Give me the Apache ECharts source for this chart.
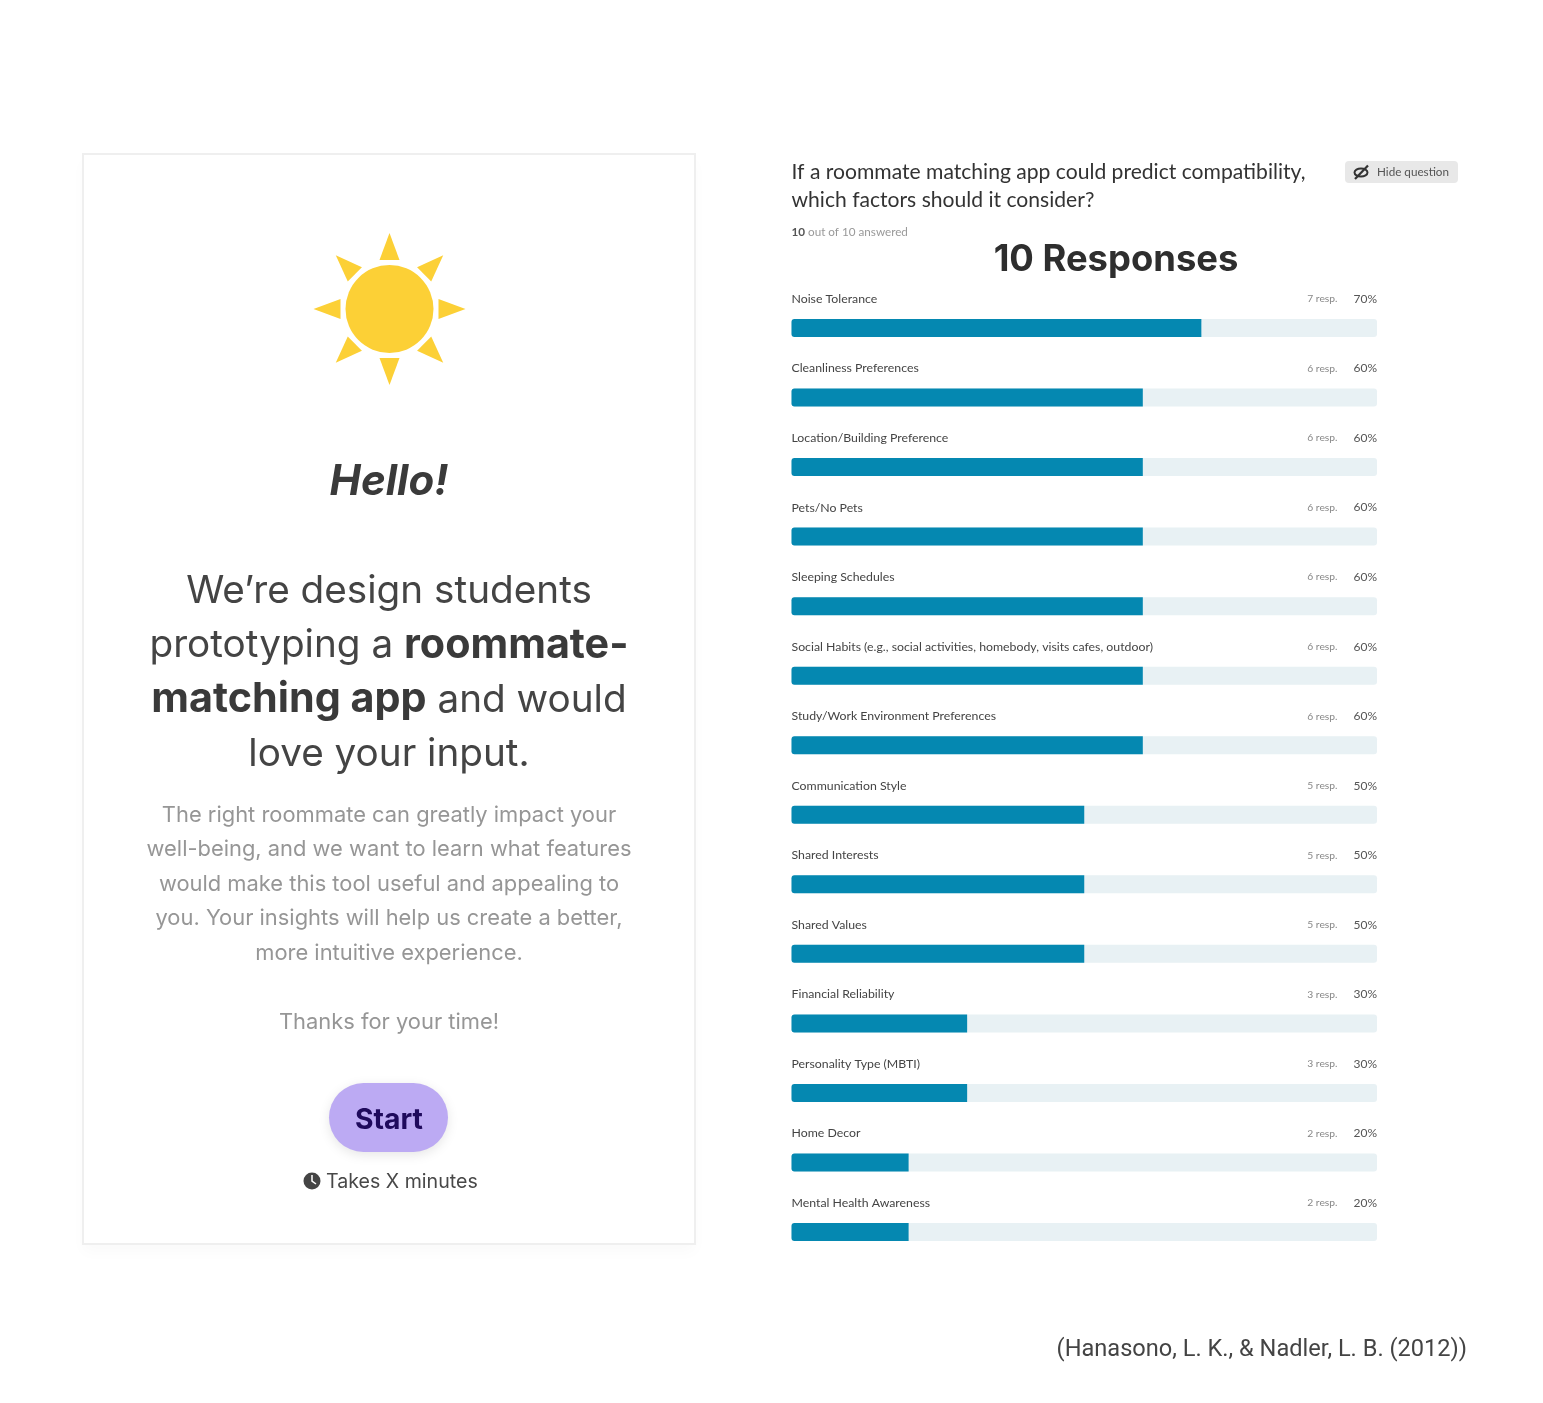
<!DOCTYPE html>
<html><head><meta charset="utf-8">
<style>html,body{margin:0;padding:0;background:#fff}#c{width:1543px;height:1403px}</style>
<script src="https://cdn.jsdelivr.net/npm/echarts@6/dist/echarts.min.js"></script>
</head><body><div id="c"></div>
<script>
const categories = ["Noise Tolerance","Cleanliness Preferences","Location/Building Preference","Pets/No Pets","Sleeping Schedules","Social Habits (e.g., social activities, homebody, visits cafes, outdoor)","Study/Work Environment Preferences","Communication Style","Shared Interests","Shared Values","Financial Reliability","Personality Type (MBTI)","Home Decor","Mental Health Awareness"];
const responses = [7,6,6,6,6,6,6,5,5,5,3,3,2,2];
const percents = [70,60,60,60,60,60,60,50,50,50,30,30,20,20];
const totalTrack = categories.map(() => 100);
const introLines = ["We’re design students","prototyping a {b|roommate-}","{b|matching app} and would","love your input."];
const bodyLines = ["The right roommate can greatly impact your","well-being, and we want to learn what features","would make this tool useful and appealing to","you. Your insights will help us create a better,","more intuitive experience."];

const INTER = 'Inter', SANS = 'Lato';
const chart = echarts.init(document.getElementById('c'), null, {width:1543, height:1403});
const g = [];
function text(x,y,t,size,color,o){ o=o||{};
  g.push({type:'text',x:x,y:y,z:10,style:{text:t,fontFamily:o.font||INTER,fontSize:size,fontWeight:o.weight||400,fontStyle:o.style||'normal',fill:color,align:o.align||'center',verticalAlign:'middle',rich:o.rich}});
}
g.push({type:'rect',shape:{x:83,y:154,width:612,height:1090},z:1,style:{fill:'#fff',stroke:'#efefef',lineWidth:2,shadowBlur:14,shadowColor:'rgba(0,0,0,0.025)',shadowOffsetY:8}});
const cx=389.5, cy=309, sunColor='#fcd036';
g.push({type:'circle',shape:{cx:cx,cy:cy,r:44},z:5,style:{fill:sunColor}});
for(let i=0;i<8;i++){ const a=i*Math.PI/4, ux=Math.cos(a), uy=Math.sin(a);
  g.push({type:'polygon',z:5,shape:{points:[[cx+76*ux,cy+76*uy],[cx+49*ux-10*uy,cy+49*uy+10*ux],[cx+49*ux+10*uy,cy+49*uy-10*ux]]},style:{fill:sunColor}});
}
text(389,482,'Hello!',42,'#3a3a3a',{weight:700,style:'italic'});
introLines.forEach((l,i)=>text(389,591+i*54.5,l,38.7,'#444',{rich:{b:{fontFamily:INTER,fontSize:41.3,fontWeight:700,fill:'#3a3a3a'}}}));
bodyLines.forEach((l,i)=>text(389,815+i*34.5,l,21.9,'#969696'));
text(389,1022,'Thanks for your time!',21.9,'#969696');
g.push({type:'rect',shape:{x:329,y:1083,width:119,height:69,r:34.5},z:5,style:{fill:'#bcaaf3',shadowBlur:12,shadowColor:'rgba(0,0,0,0.10)',shadowOffsetY:3}});
text(389,1120.5,'Start',28.3,'#1f0a5c',{weight:700});
g.push({type:'circle',shape:{cx:312,cy:1181,r:8.5},z:5,style:{fill:'#444'}});
g.push({type:'polyline',shape:{points:[[312,1175],[312,1181],[316,1184]]},z:6,style:{fill:'none',stroke:'#fff',lineWidth:1.5}});
text(326,1182,'Takes X minutes',19.6,'#484848',{align:'left'});
text(791.5,172,'If a roommate matching app could predict compatibility,',21.1,'#333',{font:SANS,align:'left'});
text(791.5,200,'which factors should it consider?',21.1,'#333',{font:SANS,align:'left'});
g.push({type:'rect',shape:{x:1345,y:161,width:113,height:22,r:4},z:5,style:{fill:'#e8e8e8'}});
g.push({type:'ellipse',shape:{cx:1361,cy:172.5,rx:6.5,ry:4},z:6,style:{fill:'none',stroke:'#333',lineWidth:2}});
g.push({type:'line',shape:{x1:1355,y1:179,x2:1368,y2:165.5},z:6,style:{stroke:'#333',lineWidth:2.2}});
text(1377,172.5,'Hide question',11.7,'#555',{font:SANS,align:'left'});
text(791.5,232,'{b|10} out of 10 answered',11.7,'#999',{font:SANS,align:'left',rich:{b:{fontFamily:SANS,fontSize:11.7,fontWeight:700,fill:'#555'}}});
text(1116,260.5,'10 Responses',36.4,'#2e2e2e',{weight:700});
text(1467,1350.5,'(Hanasono, L. K., & Nadler, L. B. (2012))',23.6,'#444',{align:'right',font:'Roboto'});

const lbl = {fontFamily:SANS,fontSize:12.3,verticalAlign:'middle'};
chart.setOption({
  animation:false,
  backgroundColor:'#fff',
  grid:{left:791.5,width:585.5,top:293.2,height:973.6,containLabel:false},
  xAxis:{type:'value',min:0,max:100,show:false},
  yAxis:{type:'category',data:categories,inverse:true,show:false},
  graphic:{elements:g},
  series:[
    {name:'Track',type:'bar',data:totalTrack,barWidth:18,barGap:'-100%',silent:true,
     itemStyle:{color:'#e8f1f4',borderRadius:3},
     label:{show:true,position:[0,-20],formatter:p=>p.name,color:'#444',...lbl}},
    {name:'Share',type:'bar',data:percents,barWidth:18,barGap:'-100%',
     itemStyle:{color:'#0588b1',borderRadius:[3,0,0,3]}},
    {name:'Responses',type:'bar',data:totalTrack,barWidth:18,barGap:'-100%',silent:true,
     itemStyle:{color:'rgba(0,0,0,0)'},
     label:{show:true,position:[546,-20],align:'right',formatter:p=>responses[p.dataIndex]+' resp.',color:'#888',...lbl,fontSize:10.3}},
    {name:'Percent',type:'bar',data:totalTrack,barWidth:18,barGap:'-100%',silent:true,
     itemStyle:{color:'rgba(0,0,0,0)'},
     label:{show:true,position:[585.5,-20],align:'right',formatter:p=>percents[p.dataIndex]+'%',color:'#555',...lbl,fontSize:12}}
  ]
});
</script></body></html>
